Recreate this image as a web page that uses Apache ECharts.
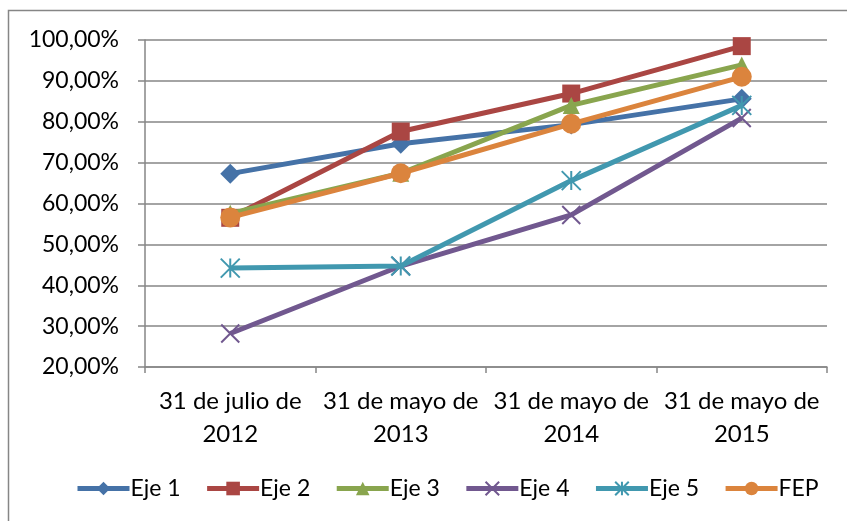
<!DOCTYPE html>
<html>
<head>
<meta charset="utf-8">
<script src="https://cdn.jsdelivr.net/npm/echarts@6/dist/echarts.min.js"></script>
<style>html,body{margin:0;padding:0;background:#fff}#c{width:847px;height:521px}</style>
</head>
<body>
<div id="c"></div>
<script>
var categories = ['31 de julio de\n2012', '31 de mayo de\n2013', '31 de mayo de\n2014', '31 de mayo de\n2015'];
var seriesNames = ['Eje 1', 'Eje 2', 'Eje 3', 'Eje 4', 'Eje 5', 'FEP'];
var eje1 = [67.3, 74.6, 79.3, 85.6];
var eje2 = [56.5, 77.6, 86.9, 98.5];
var eje3 = [57.6, 67.4, 84.0, 93.9];
var eje4 = [28.2, 44.7, 57.2, 80.9];
var eje5 = [44.2, 44.7, 65.6, 84.0];
var fep = [56.6, 67.4, 79.5, 91.0];
var yTicks = {min: 20, max: 100, interval: 10};

var colors = ['#4572A7', '#AA4643', '#89A54E', '#71588F', '#4198AF', '#DB843D'];
var symbols = ['diamond', 'rect', 'triangle',
  'path://M0,0 L10,10 M10,0 L0,10',
  'path://M5,0 L5,10 M0,0 L10,10 M10,0 L0,10',
  'circle'];
var sizes = [20, 18, 17, 18, 19, 20];
var data = [eje1, eje2, eje3, eje4, eje5, fep];
var font = 'Lato, "Open Sans", sans-serif';

var series = seriesNames.map(function (n, i) {
  var isPath = i === 3 || i === 4;
  return {
    name: n, type: 'line', data: data[i],
    symbol: symbols[i], symbolSize: sizes[i],
    lineStyle: {color: colors[i], width: 5},
    itemStyle: isPath ? {color: 'rgba(0,0,0,0)', borderColor: colors[i], borderWidth: 2} : {color: colors[i]},
    z: 2 + i
  };
});

var chart = echarts.init(document.getElementById('c'));
chart.setOption({
  animation: false,
  backgroundColor: '#fff',
  graphic: [{type: 'rect', shape: {x: 8.5, y: 10.5, width: 900, height: 600},
    style: {fill: 'none', stroke: '#868686', lineWidth: 1.5}, silent: true}],
  grid: {left: 145, right: 20, top: 40, bottom: 154},
  legend: {
    data: seriesNames, bottom: 16, left: 70,
    itemWidth: 52, itemHeight: 17, itemGap: 24,
    lineStyle: {width: 5},
    textStyle: {fontFamily: font, fontSize: 23, color: '#000', padding: [0, 0, 0, -4]}
  },
  xAxis: {
    type: 'category', data: categories, boundaryGap: true,
    axisLine: {lineStyle: {color: '#868686', width: 1.5}},
    axisTick: {show: true, interval: 0, length: 6, lineStyle: {color: '#868686', width: 1.5}},
    axisLabel: {fontFamily: font, fontSize: 24, color: '#000', lineHeight: 33, margin: 18, interval: 0}
  },
  yAxis: {
    type: 'value', min: yTicks.min, max: yTicks.max, interval: yTicks.interval,
    axisLine: {show: true, lineStyle: {color: '#868686', width: 1.5}},
    axisTick: {show: true, length: 7, lineStyle: {color: '#868686', width: 1.5}},
    splitLine: {lineStyle: {color: '#868686', width: 1.5}},
    axisLabel: {fontFamily: font, fontSize: 23, color: '#000', margin: 26,
      formatter: function (v) { return v.toFixed(2).replace('.', ',') + '%'; }}
  },
  series: series
});
</script>
</body>
</html>
